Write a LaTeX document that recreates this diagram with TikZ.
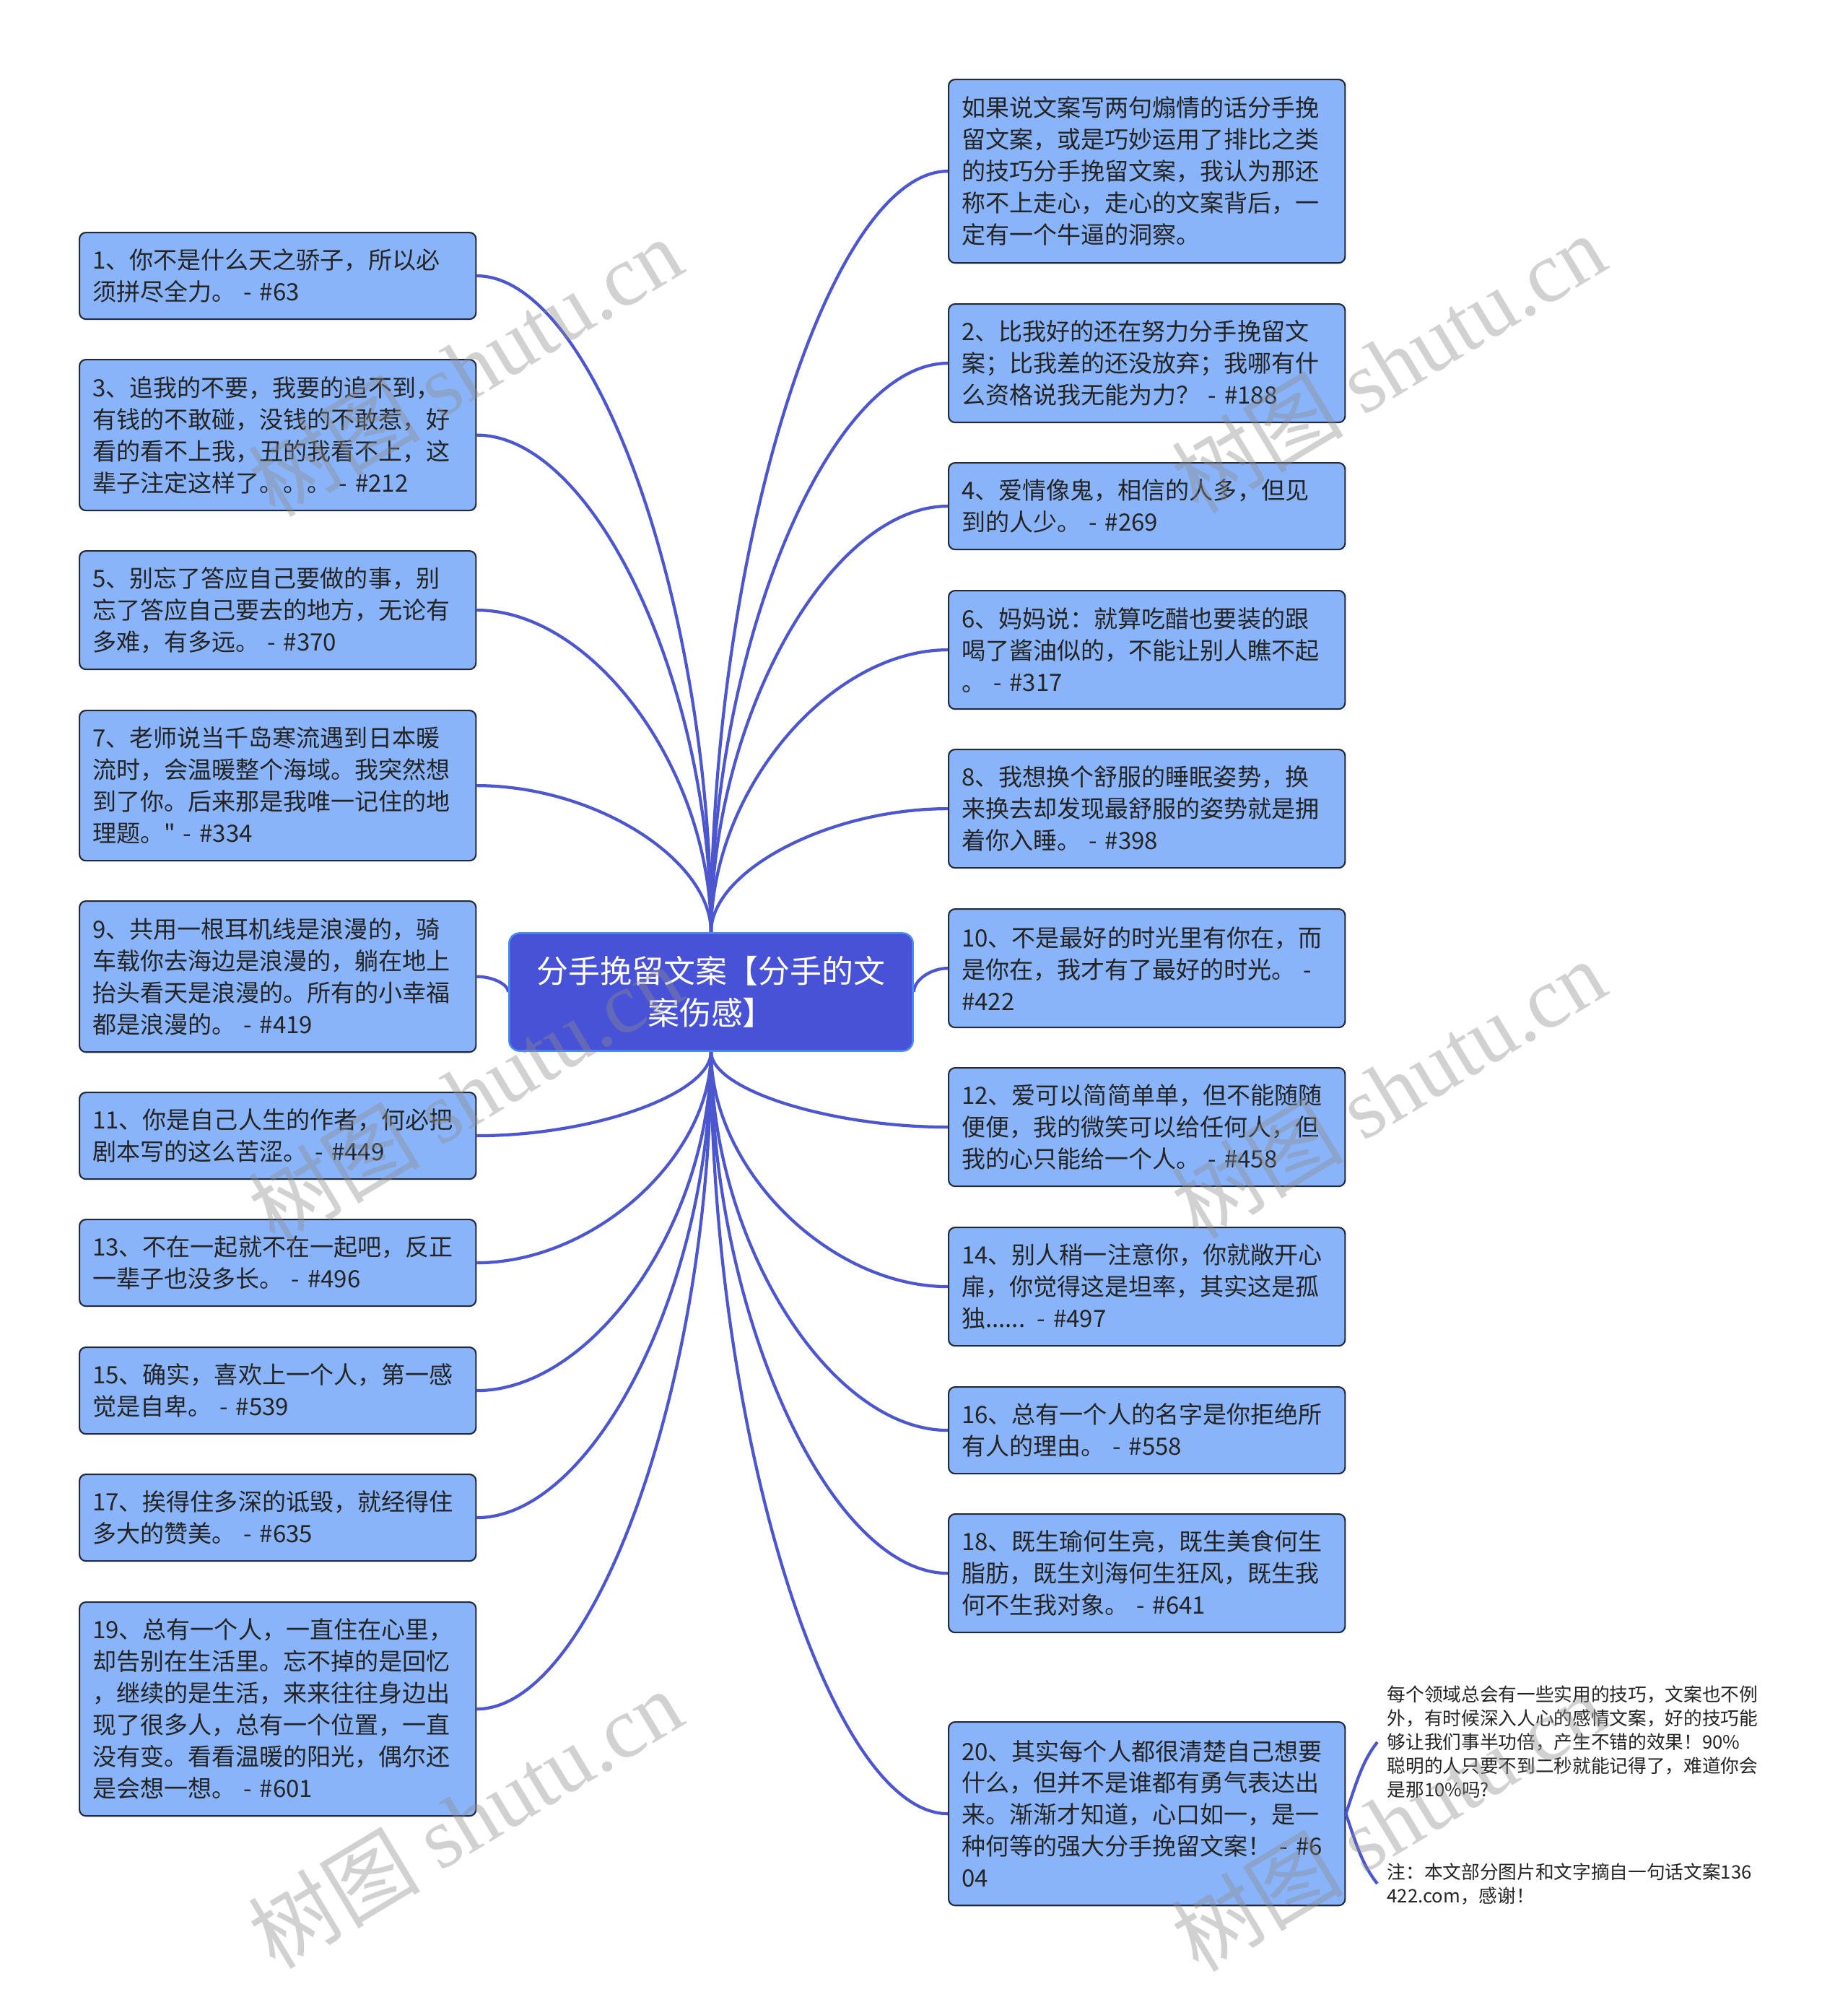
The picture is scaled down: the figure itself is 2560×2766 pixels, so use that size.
\documentclass[tikz,border=0pt]{standalone}
\usepackage{fontspec}
\setmainfont{Noto Sans CJK SC}[Ligatures=TeXOff]
\newfontfamily\wmfont{Liberation Serif}
\usetikzlibrary{calc, backgrounds}
\definecolor{rootblue}{RGB}{72,82,214}
\definecolor{rootedge}{RGB}{70,140,250}
\definecolor{leafblue}{RGB}{138,180,250}
\definecolor{leafedge}{RGB}{35,42,58}
\definecolor{linkblue}{RGB}{76,86,206}
\definecolor{inkgray}{RGB}{36,36,36}
\definecolor{markgray}{RGB}{140,140,140}

\begin{document}
\begin{tikzpicture}[x=0.01cm, y=-0.01cm,
      root/.style={draw=rootedge, line width=0.7pt, fill=rootblue, rounded corners=0.14cm,
                   text=white, align=center, minimum width=5.59cm, minimum height=1.63cm,
                   font=\fontsize{12.5pt}{16.5pt}\selectfont},
      leaf/.style={draw=leafedge, line width=0.6pt, fill=leafblue, rounded corners=0.09cm,
                   anchor=north west, minimum height=#1, text width=5.13cm, inner xsep=0.18cm,
                   align=left, text=inkgray, font=\fontsize{9.4pt}{12.5pt}\selectfont},
      leaf/.default=1.2cm,
      note/.style={anchor=west, inner xsep=0.13cm, align=left, text=inkgray,
                   font=\fontsize{7.3pt}{9.4pt}\selectfont},
      link/.style={draw=linkblue, line width=1.2pt},
      branch/.style={link, to path={let \p1=(\tikztostart), \p2=(\tikztotarget) in
                     .. controls (\x1,{0.5*(\y1+\y2)}) and ({0.5*(\x1+\x2)},\y2) .. (\tikztotarget)}},
      wmark/.style={text=markgray, text opacity=0.4, rotate=31,
                    font=\fontsize{34pt}{34pt}\selectfont}
  ]
    \useasboundingbox (0,0) rectangle (2560,2766);

    \node[root] (root) at (985,1374) {分手挽留文案【分手的文\\案伤感】};

    % left column
    \node[leaf=1.20cm] (q1) at (109,321)
      {1、你不是什么天之骄子，所以必\\须拼尽全力。 - \#63};
    \node[leaf=2.09cm] (q3) at (109,497)
      {3、追我的不要，我要的追不到，\\有钱的不敢碰，没钱的不敢惹，好\\看的看不上我，丑的我看不上，这\\辈子注定这样了。。。 - \#212};
    \node[leaf=1.64cm] (q5) at (109,762)
      {5、别忘了答应自己要做的事，别\\忘了答应自己要去的地方，无论有\\多难，有多远。 - \#370};
    \node[leaf=2.08cm] (q7) at (109,983)
      {7、老师说当千岛寒流遇到日本暖\\流时，会温暖整个海域。我突然想\\到了你。后来那是我唯一记住的地\\理题。" - \#334};
    \node[leaf=2.09cm] (q9) at (109,1247)
      {9、共用一根耳机线是浪漫的，骑\\车载你去海边是浪漫的，躺在地上\\抬头看天是浪漫的。所有的小幸福\\都是浪漫的。 - \#419};
    \node[leaf=1.20cm] (q11) at (109,1512)
      {11、你是自己人生的作者，何必把\\剧本写的这么苦涩。 - \#449};
    \node[leaf=1.20cm] (q13) at (109,1688)
      {13、不在一起就不在一起吧，反正\\一辈子也没多长。 - \#496};
    \node[leaf=1.20cm] (q15) at (109,1865)
      {15、确实，喜欢上一个人，第一感\\觉是自卑。 - \#539};
    \node[leaf=1.20cm] (q17) at (109,2041)
      {17、挨得住多深的诋毁，就经得住\\多大的赞美。 - \#635};
    \node[leaf=2.96cm] (q19) at (109,2218)
      {19、总有一个人，一直住在心里，\\却告别在生活里。忘不掉的是回忆\\，继续的是生活，来来往往身边出\\现了很多人，总有一个位置，一直\\没有变。看看温暖的阳光，偶尔还\\是会想一想。 - \#601};

    % right column
    \node[leaf=2.54cm] (intro) at (1313,109)
      {如果说文案写两句煽情的话分手挽\\留文案，或是巧妙运用了排比之类\\的技巧分手挽留文案，我认为那还\\称不上走心，走心的文案背后，一\\定有一个牛逼的洞察。};
    \node[leaf=1.64cm] (q2) at (1313,420)
      {2、比我好的还在努力分手挽留文\\案；比我差的还没放弃；我哪有什\\么资格说我无能为力？ - \#188};
    \node[leaf=1.20cm] (q4) at (1313,640)
      {4、爱情像鬼，相信的人多，但见\\到的人少。 - \#269};
    \node[leaf=1.64cm] (q6) at (1313,817)
      {6、妈妈说：就算吃醋也要装的跟\\喝了酱油似的，不能让别人瞧不起\\。 - \#317};
    \node[leaf=1.64cm] (q8) at (1313,1037)
      {8、我想换个舒服的睡眠姿势，换\\来换去却发现最舒服的姿势就是拥\\着你入睡。 - \#398};
    \node[leaf=1.64cm] (q10) at (1313,1258)
      {10、不是最好的时光里有你在，而\\是你在，我才有了最好的时光。 -\\\#422};
    \node[leaf=1.64cm] (q12) at (1313,1478)
      {12、爱可以简简单单，但不能随随\\便便，我的微笑可以给任何人，但\\我的心只能给一个人。 - \#458};
    \node[leaf=1.64cm] (q14) at (1313,1699)
      {14、别人稍一注意你，你就敞开心\\扉，你觉得这是坦率，其实这是孤\\独...... - \#497};
    \node[leaf=1.20cm] (q16) at (1313,1920)
      {16、总有一个人的名字是你拒绝所\\有人的理由。 - \#558};
    \node[leaf=1.64cm] (q18) at (1313,2096)
      {18、既生瑜何生亮，既生美食何生\\脂肪，既生刘海何生狂风，既生我\\何不生我对象。 - \#641};
    \node[leaf=2.54cm] (q20) at (1313,2384)
      {20、其实每个人都很清楚自己想要\\什么，但并不是谁都有勇气表达出\\来。渐渐才知道，心口如一，是一\\种何等的强大分手挽留文案！ - \#6\\04};

    % notes on the last quote
    \node[note] (tip) at (1908,2413)
      {每个领域总会有一些实用的技巧，文案也不例\\外，有时候深入人心的感情文案，好的技巧能\\够让我们事半功倍，产生不错的效果！90\%\\聪明的人只要不到二秒就能记得了，难道你会\\是那10\%吗?};
    \node[note] (credit) at (1908,2609)
      {注：本文部分图片和文字摘自一句话文案136\\422.com，感谢！};

    \draw[link] (q20.east) .. controls +(15,-45) and +(-20,25) .. (tip.west);
    \draw[link] (q20.east) .. controls +(15,45) and +(-20,-25) .. (credit.west);

    \begin{scope}[on background layer]
      \fill[white] (0,0) rectangle (2560,2766);
      \draw[branch] (root.north) to (q1.east);
      \draw[branch] (root.north) to (q3.east);
      \draw[branch] (root.north) to (q5.east);
      \draw[branch] (root.north) to (q7.east);
      \draw[branch] (root.west) to (q9.east);
      \draw[branch] (root.south) to (q11.east);
      \draw[branch] (root.south) to (q13.east);
      \draw[branch] (root.south) to (q15.east);
      \draw[branch] (root.south) to (q17.east);
      \draw[branch] (root.south) to (q19.east);
      \draw[branch] (root.north) to (intro.west);
      \draw[branch] (root.north) to (q2.west);
      \draw[branch] (root.north) to (q4.west);
      \draw[branch] (root.north) to (q6.west);
      \draw[branch] (root.north) to (q8.west);
      \draw[branch] (root.east) to (q10.west);
      \draw[branch] (root.south) to (q12.west);
      \draw[branch] (root.south) to (q14.west);
      \draw[branch] (root.south) to (q16.west);
      \draw[branch] (root.south) to (q18.west);
      \draw[branch] (root.south) to (q20.west);
    \end{scope}

    % watermarks
    \node[wmark] (wm1) at (644,508) {树图 {\wmfont shutu.cn}};
    \node[wmark] (wm2) at (644,1515) {树图 {\wmfont shutu.cn}};
    \node[wmark] (wm3) at (644,2519) {树图 {\wmfont shutu.cn}};
    \node[wmark] (wm4) at (1923,503) {树图 {\wmfont shutu.cn}};
    \node[wmark] (wm5) at (1923,1508) {树图 {\wmfont shutu.cn}};
    \node[wmark] (wm6) at (1923,2523) {树图 {\wmfont shutu.cn}};
  \end{tikzpicture}
\end{document}
